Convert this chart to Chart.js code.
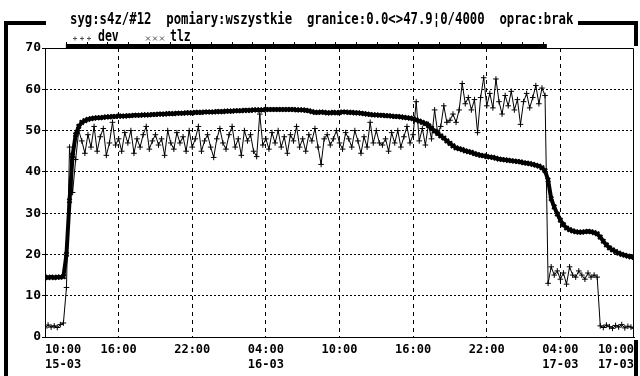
<!DOCTYPE html>
<html>
<head>
<meta charset="utf-8">
<script src="https://cdn.jsdelivr.net/npm/chart.js@4.4.1/dist/chart.umd.min.js"></script>
<style>
  html, body { margin: 0; padding: 0; background: #fff; }
  #wrap { width: 640px; height: 376px; }
</style>
</head>
<body>
<div id="wrap"><canvas id="chart" width="640" height="376"></canvas></div>
<script>
// one sample every 15 minutes, from 10:00 15-03 to 10:00 17-03
var stepMinutes = 15;
var titleText = 'syg:s4z/#12  pomiary:wszystkie  granice:0.0<>47.9\u00a60/4000  oprac:brak';
var seriesNames = ['dev', 'tlz'];
var xTickLabels = [['10:00', '15-03'], '16:00', '22:00', ['04:00', '16-03'], '10:00', '16:00', '22:00', ['04:00', '17-03'], ['10:00', '17-03']];
var yMin = 0, yMax = 70, yStep = 10;

var devValues = [
  2.2, 2.9, 2.4, 2.7, 2.3, 3.0, 3.4,
  12, 46, 35, 43, 50, 47.5,
  44.5, 49, 46, 51, 45, 48.5, 50.5, 44, 47, 52, 46.5,
  48, 45, 49.5, 47, 50, 44.5, 48, 46, 49, 51, 45.5, 47.5,
  49, 46.5, 48, 44, 50, 47, 45.5, 49.5, 47, 48.5, 45, 50,
  46, 48, 51, 45, 47.5, 49, 46, 43.5, 48, 50.5, 47, 45.5,
  49, 51, 46, 48, 44, 50, 47.5, 49, 45, 43.7, 54, 46.5,
  48, 45.5, 49.5, 47, 50, 46, 48.5, 44.5, 49, 47.5, 51, 46,
  48, 45, 49, 47.5, 50.5, 46, 41.8, 48, 49, 46.5, 48, 50,
  47, 45.5, 49.5, 48, 46, 50, 47.5, 44.5, 48.5, 46, 52, 47,
  50, 47, 46.5, 48, 45, 49.5, 47, 50, 46, 48.5, 51, 47,
  49, 57, 47.5, 50.5, 46.5, 51.5, 48, 55, 49.5, 51, 56, 52,
  52.5, 54, 52, 55, 61.4, 56.5, 58, 55, 57.5, 49.5, 58, 62.8,
  56, 59, 55.5, 62.5, 57, 54, 58.5, 56, 59.5, 55, 57.5, 51.5,
  57, 59, 55.5, 58, 60.9, 56.5, 60.3, 58.5,
  13, 17, 15, 16, 14, 15.5, 12.8, 17, 15, 14.5, 16, 15, 14, 15.5, 14.5, 15, 14.5,
  2.7, 2.3, 2.9, 2.5, 2.1, 2.8, 2.4, 3.0, 2.2, 2.6, 2.4, 2.1
];

var tlzValues = [
  14.5, 14.4, 14.5, 14.4, 14.5, 14.5, 14.6,
  20, 33, 44, 49, 51, 52,
  52.4, 52.7, 52.9,
  53.0, 53.1, 53.1, 53.2,
  53.3, 53.3, 53.4, 53.4,
  53.5, 53.5, 53.5, 53.6,
  53.6, 53.7, 53.7, 53.7,
  53.8, 53.8, 53.8, 53.9,
  53.9, 54.0, 54.0, 54.0,
  54.1, 54.1, 54.1, 54.2,
  54.2, 54.2, 54.3, 54.3,
  54.3, 54.4, 54.4, 54.4,
  54.5, 54.5, 54.5, 54.5,
  54.6, 54.6, 54.6, 54.7,
  54.7, 54.7, 54.8, 54.8,
  54.8, 54.9, 54.9, 54.9,
  55.0, 55.0, 55.0, 55.0,
  55.1, 55.1, 55.1, 55.1,
  55.1, 55.1, 55.1, 55.1,
  55.1, 55.1, 55.0, 55.0,
  55.0, 54.9, 54.8, 54.6,
  54.4, 54.4, 54.5, 54.4,
  54.3, 54.3, 54.4, 54.3,
  54.4, 54.5, 54.5, 54.4,
  54.4, 54.3, 54.3, 54.2,
  54.1, 54.0, 53.9, 53.8,
  53.8, 53.7, 53.7, 53.6,
  53.6, 53.5, 53.4, 53.4,
  53.3, 53.2, 53.1, 53.0,
  52.9, 52.6, 52.3, 52.0,
  51.7, 51.2, 50.6, 49.9,
  49.3, 48.7, 48.2, 47.5,
  46.9, 46.3, 45.8, 45.6,
  45.4, 45.1, 44.9, 44.7,
  44.4, 44.2, 44.0, 43.9,
  43.7, 43.6, 43.5, 43.3,
  43.1, 43.0, 42.9, 42.8,
  42.7, 42.6, 42.5, 42.4,
  42.2, 42.1, 42.0, 41.8,
  41.6, 41.4, 41.0, 40.3,
  38.0, 33.5, 31.5, 29.8,
  28.3, 27.2, 26.4, 26.0,
  25.7, 25.5, 25.4, 25.4,
  25.5, 25.6, 25.5, 25.3,
  25.0, 24.2, 23.2, 22.3,
  21.6, 21.1, 20.7, 20.3,
  20.0, 19.8, 19.6, 19.4,
  19.3
];

// thick bar drawn along the top of the plot (hours from start)
var coverageFrom = 1.7, coverageTo = 40.9, coverageTickEvery = 1.69;

function toPoints(values) {
  var pts = [];
  for (var i = 0; i < values.length; i++) {
    pts.push({x: i * stepMinutes / 60, y: values[i]});
  }
  return pts;
}

var monoFont = '"DejaVu Sans Mono", "Liberation Mono", monospace';

// draws text stretched vertically, the reference uses a tall narrow bitmap font
function tallText(ctx, text, x, baseline, size, stretch) {
  ctx.save();
  ctx.translate(x, baseline);
  ctx.scale(1, stretch);
  ctx.font = 'bold ' + size + 'px ' + monoFont;
  ctx.textBaseline = 'alphabetic';
  ctx.fillText(text, 0, 0);
  ctx.restore();
}

var decorPlugin = {
  id: 'decor',
  afterDraw: function(chart) {
    var ctx = chart.ctx;
    var a = chart.chartArea;
    var xs = chart.scales.x;
    ctx.save();
    ctx.fillStyle = '#000';
    ctx.strokeStyle = '#000';
    ctx.lineWidth = 1;

    // top and right edge of the plot box
    ctx.beginPath();
    ctx.moveTo(a.left, a.top + 0.5);
    ctx.lineTo(a.right - 0.5, a.top + 0.5);
    ctx.lineTo(a.right - 0.5, a.bottom);
    ctx.stroke();

    // heavy outer frame
    ctx.fillRect(4, 21, 4, 355);
    ctx.fillRect(4, 21, 42, 4);
    ctx.fillRect(578, 21, 60, 4);
    ctx.fillRect(634, 21, 4, 25);
    ctx.fillRect(634, 340, 4, 36);

    // coverage bar with little ticks
    var x1 = xs.getPixelForValue(coverageFrom);
    var x2 = xs.getPixelForValue(coverageTo);
    ctx.fillRect(x1, a.top - 4, x2 - x1, 4);
    for (var h = coverageFrom; h <= coverageTo; h += coverageTickEvery) {
      var px = Math.round(xs.getPixelForValue(h));
      ctx.fillRect(px, a.top - 6, 1, 2);
    }

    // title
    tallText(ctx, titleText, 70, 24, 12.3, 1.35);

    // legend
    ctx.lineWidth = 1;
    ctx.strokeStyle = '#555';
    var i;
    for (i = 0; i < 3; i++) {
      var cx = 75 + i * 7, cy = 38.5;
      ctx.beginPath();
      ctx.moveTo(cx - 2, cy); ctx.lineTo(cx + 2, cy);
      ctx.moveTo(cx, cy - 2); ctx.lineTo(cx, cy + 2);
      ctx.stroke();
    }
    tallText(ctx, seriesNames[0], 98, 41, 11.5, 1.4);
    for (i = 0; i < 3; i++) {
      var qx = 148 + i * 7, qy = 38.5;
      ctx.beginPath();
      ctx.moveTo(qx - 2, qy - 2); ctx.lineTo(qx + 2, qy + 2);
      ctx.moveTo(qx + 2, qy - 2); ctx.lineTo(qx - 2, qy + 2);
      ctx.stroke();
    }
    tallText(ctx, seriesNames[1], 170, 41, 11.5, 1.4);
    ctx.restore();
  }
};

var chart = new Chart(document.getElementById('chart'), {
  type: 'line',
  data: {
    datasets: [{
      label: seriesNames[0],
      data: toPoints(devValues),
      borderColor: '#000',
      borderWidth: 1,
      pointStyle: 'cross',
      pointRadius: 2.8,
      pointBorderWidth: 1,
      pointBorderColor: '#000',
      tension: 0
    }, {
      label: seriesNames[1],
      data: toPoints(tlzValues),
      borderColor: '#000',
      borderWidth: 4,
      pointStyle: 'crossRot',
      pointRadius: 3,
      pointBorderWidth: 2,
      pointBorderColor: '#000',
      tension: 0
    }]
  },
  options: {
    responsive: false,
    animation: false,
    events: [],
    layout: {padding: {top: 48, right: 3, left: 0, bottom: 0}},
    plugins: {legend: {display: false}, title: {display: false}, tooltip: {enabled: false}},
    scales: {
      x: {
        type: 'linear',
        min: 0,
        max: 48,
        afterFit: function(s) { s.height = 39; },
        ticks: {
          stepSize: 6,
          autoSkip: false,
          maxRotation: 0,
          align: 'inner',
          padding: 5,
          color: '#000',
          font: {family: monoFont, size: 12, weight: 'bold', lineHeight: 1.25},
          callback: function(v) { return xTickLabels[Math.round(v / 6)]; }
        },
        grid: {
          drawTicks: false,
          color: function(c) { return (c.tick && c.tick.value > 0 && c.tick.value < 48) ? '#000' : 'rgba(0,0,0,0)'; }
        },
        border: {display: true, color: '#000', width: 1, dash: [4, 4]}
      },
      y: {
        min: yMin,
        max: yMax,
        afterFit: function(s) { s.width = 45; },
        ticks: {
          stepSize: yStep,
          padding: 1,
          color: '#000',
          font: {family: monoFont, size: 13, weight: 'bold'}
        },
        grid: {
          tickLength: 3,
          tickColor: '#000',
          color: function(c) { return (c.tick && c.tick.value > yMin && c.tick.value < yMax) ? '#000' : 'rgba(0,0,0,0)'; }
        },
        border: {display: true, color: '#000', width: 1, dash: [2, 2]}
      }
    }
  },
  plugins: [decorPlugin]
});
</script>
</body>
</html>
